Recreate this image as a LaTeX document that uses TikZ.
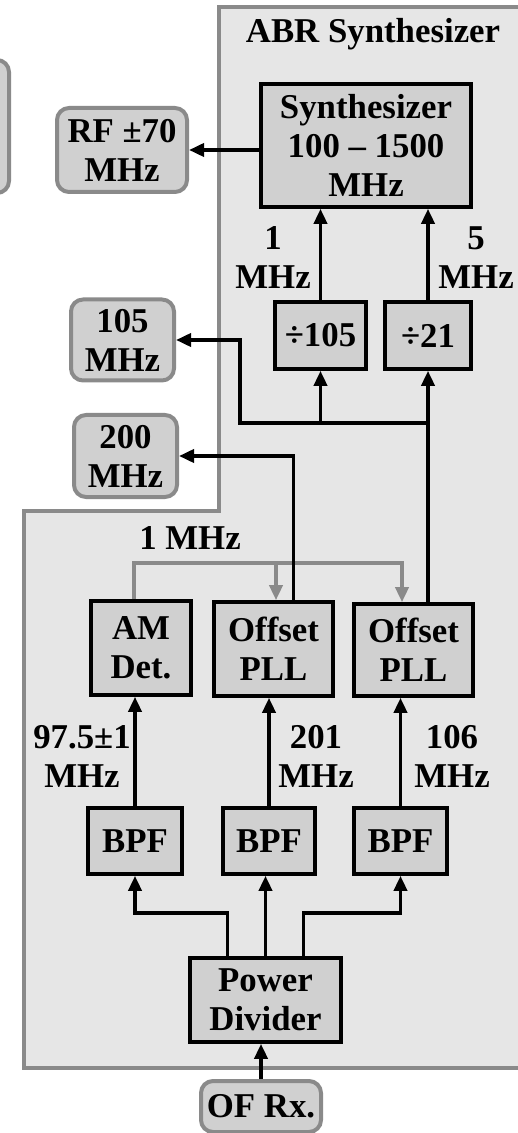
\documentclass[tikz,border=0pt]{standalone}
\usepackage{fontspec}
\setmainfont{Liberation Serif}
\usetikzlibrary{arrows.meta,positioning,calc}
\definecolor{boxgray}{HTML}{D0D0D0}
\definecolor{regiongray}{HTML}{E6E6E6}
\definecolor{edgegray}{HTML}{8A8A8A}
\tikzset{
  blk/.style={draw=black, line width=1.8pt, fill=boxgray, align=center, inner sep=0pt},
  port/.style={draw=edgegray, line width=2pt, fill=boxgray, rounded corners=6pt, align=center, inner sep=0pt},
  sig/.style={line width=1.8pt, -{Triangle[length=7.5pt,width=6.5pt]}},
  fbsig/.style={sig, draw=edgegray},
}

\begin{document}
\begin{tikzpicture}[x=0.5pt, y=-0.5pt, font=\fontsize{17.4pt}{19.5pt}\selectfont\bfseries]
  \useasboundingbox (0,0) rectangle (518,1133);
  \clip (0,0) rectangle (518,1133);
  % ---- synthesizer region and cut-off box at the left ----
  \draw[draw=edgegray, line width=2pt, fill=regiongray]
    (219,7) -- (530,7) -- (530,1068) -- (24,1068) -- (24,511) -- (219,511) -- cycle;
  \draw[draw=edgegray, line width=2pt, fill=boxgray, rounded corners=6pt] (-40,60) rectangle (9,193);
  \node (title) at (373,34) {ABR Synthesizer};
  % ---- upper chain ----
  \node[blk, minimum width=105pt, minimum height=61.5pt] (synth) at (366,145.5) {Synthesizer\\100 -- 1500\\MHz};
  \node[port, minimum width=65pt, minimum height=42pt] (rf) at (122,150) {RF ±70\\MHz};
  \node[blk, minimum width=45.5pt, minimum height=33.5pt] (div105) at (320.5,335.5) {÷105};
  \node[blk, minimum width=43pt, minimum height=33.5pt] (div21) at (428,335.5) {÷21};
  \node[port, minimum width=51.5pt, minimum height=40.5pt] (out105) at (122.5,340) {105\\MHz};
  \node[port, minimum width=51.5pt, minimum height=41pt] (out200) at (125.5,456) {200\\MHz};
  % ---- lower chain ----
  \node[blk, minimum width=50pt, minimum height=47pt] (amdet) at (141,648) {AM\\Det.};
  \node[blk, minimum width=59.5pt, minimum height=47pt] (pllA) at (273.5,649) {Offset\\PLL};
  \node[blk, minimum width=59.5pt, minimum height=46pt] (pllB) at (413.5,650) {Offset\\PLL};
  \node[blk, minimum width=47pt, minimum height=33pt] (bpfA) at (135,841) {BPF};
  \node[blk, minimum width=46pt, minimum height=33pt] (bpfB) at (269,841) {BPF};
  \node[blk, minimum width=46.5pt, minimum height=33pt] (bpfC) at (400.5,841) {BPF};
  \node[blk, minimum width=75.5pt, minimum height=42pt] (pdiv) at (265.5,1000) {Power\\Divider};
  \node[port, minimum width=60pt, minimum height=25.5pt] (ofrx) at (261,1106.5) {OF Rx.};
  % ---- labels ----
  \node[align=center] (lbl1) at (273,258) {1\\MHz};
  \node[align=center] (lbl5) at (476,258) {5\\MHz};
  \node (lblref) at (190,538) {1 MHz};
  \node[align=center] (lblam) at (82,756) {97.5±1\\MHz};
  \node[align=center] (lbl201) at (316,756) {201\\MHz};
  \node[align=center] (lbl106) at (452,756) {106\\MHz};
  % ---- connectors ----
  \coordinate (pdbus) at (0,913);
  \coordinate (fbA) at (276,563);
  \coordinate (fbB) at (402,563);
  \coordinate (jog) at (240,423);
  \draw[sig] (ofrx.north) -- (ofrx.north |- pdiv.south);
  \draw[sig] ([xshift=-19pt]pdiv.north) |- (pdbus -| bpfA.south) -- (bpfA.south);
  \draw[sig] (pdiv.north) -- (pdiv.north |- bpfB.south);
  \draw[sig] ([xshift=19pt]pdiv.north) |- (pdbus -| bpfC.south) -- (bpfC.south);
  \draw[sig] (bpfA.north) -- (bpfA.north |- amdet.south);
  \draw[sig] (bpfB.north) -- (bpfB.north |- pllA.south);
  \draw[sig] (bpfC.north) -- (bpfC.north |- pllB.south);
  \draw[fbsig] ([xshift=-3.5pt]amdet.north) |- (fbB) -- (fbB |- pllB.north);
  \draw[fbsig] (fbA) -- (fbA |- pllA.north);
  \draw[sig] ([xshift=10pt]pllA.north) |- (out200.east);
  \draw[sig] (pllB.north -| div21) -- (div21.south);
  \draw[sig] (jog -| div21) -- (jog) |- (out105.east);
  \draw[sig] (jog -| div105) -- (div105.south);
  \draw[sig] (div105.north) -- (div105.north |- synth.south);
  \draw[sig] (div21.north) -- (div21.north |- synth.south);
  \draw[sig] (synth.west |- rf) -- (rf.east);
\end{tikzpicture}
\end{document}
